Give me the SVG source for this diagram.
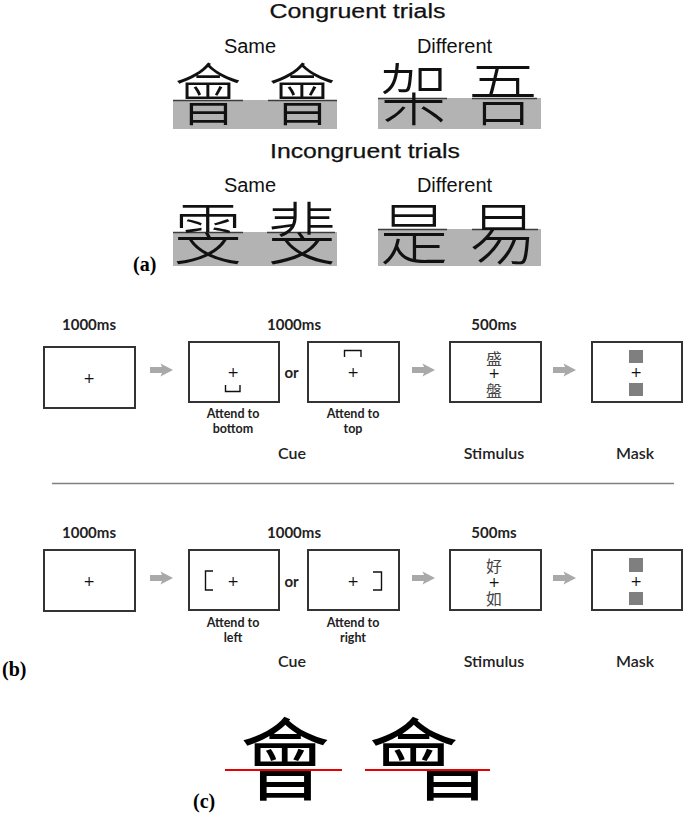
<svg xmlns="http://www.w3.org/2000/svg" width="685" height="813" viewBox="0 0 685 813">
<defs>
<style>
.title{font-family:"Liberation Sans",Arial,sans-serif;font-size:20px;fill:#111;stroke:#111;stroke-width:0.25;text-anchor:middle}
.sub{font-family:"Liberation Sans",Arial,sans-serif;font-size:20px;fill:#111;text-anchor:middle}
.big{font-family:"Noto Sans CJK TC","Noto Sans CJK SC",sans-serif;font-weight:300;font-size:68px;fill:#111;text-anchor:middle}
.huge{font-family:"Noto Sans CJK TC","Noto Sans CJK SC",sans-serif;font-size:90px;fill:#000;text-anchor:middle}
.gray{fill:#b3b3b3}
.edge{stroke:#3c3c3c;stroke-width:1.4}
.lbl{font-family:"Liberation Serif","Times New Roman",serif;font-weight:bold;font-size:20px;fill:#000}
.time{font-family:Lato,"Open Sans",sans-serif;font-weight:bold;font-size:15px;fill:#222;text-anchor:middle}
.att{font-family:Lato,"Open Sans",sans-serif;font-weight:bold;font-size:12.5px;fill:#222;text-anchor:middle}
.phase{font-family:Lato,"Open Sans",sans-serif;font-weight:600;font-size:16px;fill:#222;text-anchor:middle}
.box{fill:#fff;stroke:#333;stroke-width:2}
.plus{font-family:"DejaVu Sans",sans-serif;font-size:14px;fill:#111;text-anchor:middle}
.cue{fill:none;stroke:#111;stroke-width:1.4}
.stim{font-family:"Noto Sans CJK TC","Noto Sans CJK SC",sans-serif;font-size:16px;fill:#444;text-anchor:middle}
.sq{fill:#7f7f7f}
.arrow{fill:#a9a9a9}
.sep{stroke:#808080;stroke-width:1.5}
.red{stroke:#e60000;stroke-width:2}
</style>
<polygon id="arr" class="arrow" points="0,-3 12,-3 10.5,-6.5 23,0 10.5,6.5 12,3 0,3"/>
<clipPath id="cTop"><rect x="300" y="690" width="220" height="80"/></clipPath>
<clipPath id="cBot"><rect x="300" y="770" width="220" height="43"/></clipPath>
</defs>
<rect width="685" height="813" fill="#fff"/>

<!-- (a) -->
<g id="panel-a">
  <text class="title" x="357.5" y="18" textLength="176" lengthAdjust="spacingAndGlyphs">Congruent trials</text>
  <g id="cong-same">
    <text class="sub" x="250" y="53">Same</text>
    <rect class="gray" x="173" y="100" width="164" height="29"/>
    <line class="edge" x1="173" y1="100.5" x2="243" y2="100.5"/>
    <line class="edge" x1="268" y1="100.5" x2="337" y2="100.5"/>
    <text class="big" x="208" y="120">會</text>
    <text class="big" x="302" y="120">會</text>
  </g>
  <g id="cong-diff">
    <text class="sub" x="454.5" y="53">Different</text>
    <rect class="gray" x="378" y="98" width="163" height="31"/>
    <line class="edge" x1="378" y1="98.5" x2="447" y2="98.5"/>
    <line class="edge" x1="472" y1="98.5" x2="537" y2="98.5"/>
    <text class="big" x="414" y="120">架</text>
    <text class="big" x="503" y="120">吾</text>
  </g>
  <text class="title" x="365" y="158" textLength="190" lengthAdjust="spacingAndGlyphs">Incongruent trials</text>
  <g id="incong-same">
    <text class="sub" x="250" y="192">Same</text>
    <rect class="gray" x="173" y="232" width="164" height="34"/>
    <line class="edge" x1="173" y1="232.5" x2="243" y2="232.5"/>
    <line class="edge" x1="267" y1="232.5" x2="335" y2="232.5"/>
    <text class="big" x="208" y="259">雯</text>
    <text class="big" x="302" y="259">斐</text>
  </g>
  <g id="incong-diff">
    <text class="sub" x="454.5" y="192">Different</text>
    <rect class="gray" x="378" y="229" width="163" height="37"/>
    <line class="edge" x1="378" y1="229.5" x2="447" y2="229.5"/>
    <line class="edge" x1="472" y1="229.5" x2="538" y2="229.5"/>
    <text class="big" x="414" y="259">是</text>
    <text class="big" x="503" y="259">易</text>
  </g>
  <text class="lbl" x="133" y="271">(a)</text>
</g>

<!-- (b) row 1 -->
<g id="row1">
  <g id="r1-fix">
    <text class="time" x="89" y="330">1000ms</text>
    <rect class="box" x="44" y="347" width="91" height="61"/>
    <text class="plus" x="89" y="383">+</text>
  </g>
  <g id="r1-cue-bottom">
    <text class="time" x="294" y="330">1000ms</text>
    <rect class="box" x="189" y="342" width="90" height="60"/>
    <text class="plus" x="233" y="377">+</text>
    <path class="cue" d="M225.5,385 V391.5 H240 V385"/>
    <text class="att" x="233" y="418">Attend to</text>
    <text class="att" x="233" y="433">bottom</text>
  </g>
  <text class="time" x="291.5" y="378">or</text>
  <g id="r1-cue-top">
    <rect class="box" x="308" y="342" width="91" height="60"/>
    <text class="plus" x="353" y="377">+</text>
    <path class="cue" d="M344.5,357 V350.5 H361 V357"/>
    <text class="att" x="353" y="418">Attend to</text>
    <text class="att" x="353" y="433">top</text>
  </g>
  <text class="phase" x="292" y="459">Cue</text>
  <g id="r1-stim">
    <text class="time" x="494" y="330">500ms</text>
    <rect class="box" x="450" y="342" width="91" height="60"/>
    <text class="stim" x="494" y="365">盛</text>
    <text class="plus" x="494" y="377.5">+</text>
    <text class="stim" x="494" y="397">盤</text>
    <text class="phase" x="494" y="459">Stimulus</text>
  </g>
  <g id="r1-mask">
    <rect class="box" x="592" y="342" width="90" height="60"/>
    <rect class="sq" x="629" y="350" width="14" height="13"/>
    <text class="plus" x="636" y="377">+</text>
    <rect class="sq" x="629" y="383" width="14" height="13"/>
    <text class="phase" x="635" y="459">Mask</text>
  </g>
</g>

<line class="sep" x1="52" y1="483.5" x2="674" y2="483.5"/>

<!-- (b) row 2 -->
<g id="row2">
  <g id="r2-fix">
    <text class="time" x="89" y="538">1000ms</text>
    <rect class="box" x="44" y="550" width="91" height="61"/>
    <text class="plus" x="89" y="586">+</text>
  </g>
  <g id="r2-cue-left">
    <text class="time" x="294" y="538">1000ms</text>
    <rect class="box" x="189" y="550" width="90" height="60"/>
    <path class="cue" d="M213,571 H205.5 V590 H213"/>
    <text class="plus" x="233" y="586">+</text>
    <text class="att" x="233" y="627">Attend to</text>
    <text class="att" x="233" y="642">left</text>
  </g>
  <text class="time" x="291.5" y="587">or</text>
  <g id="r2-cue-right">
    <rect class="box" x="308" y="550" width="91" height="60"/>
    <text class="plus" x="353" y="586">+</text>
    <path class="cue" d="M373,572 H381.5 V590 H373"/>
    <text class="att" x="353" y="627">Attend to</text>
    <text class="att" x="353" y="642">right</text>
  </g>
  <text class="phase" x="292" y="667">Cue</text>
  <g id="r2-stim">
    <text class="time" x="494" y="538">500ms</text>
    <rect class="box" x="450" y="550" width="91" height="60"/>
    <text class="stim" x="494" y="572">好</text>
    <text class="plus" x="494" y="586.5">+</text>
    <text class="stim" x="494" y="605">如</text>
    <text class="phase" x="494" y="667">Stimulus</text>
  </g>
  <g id="r2-mask">
    <rect class="box" x="592" y="550" width="90" height="60"/>
    <rect class="sq" x="629" y="558" width="14" height="14"/>
    <text class="plus" x="636" y="586">+</text>
    <rect class="sq" x="629" y="592" width="14" height="13"/>
    <text class="phase" x="635" y="667">Mask</text>
  </g>
  <text class="lbl" x="2" y="676">(b)</text>
</g>

<g id="connectors">
  <use href="#arr" x="150" y="370"/>
  <use href="#arr" x="412" y="370"/>
  <use href="#arr" x="553" y="370"/>
  <use href="#arr" x="150" y="578"/>
  <use href="#arr" x="412" y="578"/>
  <use href="#arr" x="553" y="578"/>
</g>

<!-- (c) -->
<g id="panel-c">
  <g id="c-normal">
    <text class="huge" x="285" y="793">會</text>
    <line class="red" x1="225" y1="770" x2="342" y2="770"/>
  </g>
  <g id="c-shifted">
    <text class="huge" x="413.5" y="793" clip-path="url(#cTop)">會</text>
    <text class="huge" x="452" y="793" clip-path="url(#cBot)">會</text>
    <line class="red" x1="365" y1="770" x2="490" y2="770"/>
  </g>
  <text class="lbl" x="193" y="808">(c)</text>
</g>
</svg>
